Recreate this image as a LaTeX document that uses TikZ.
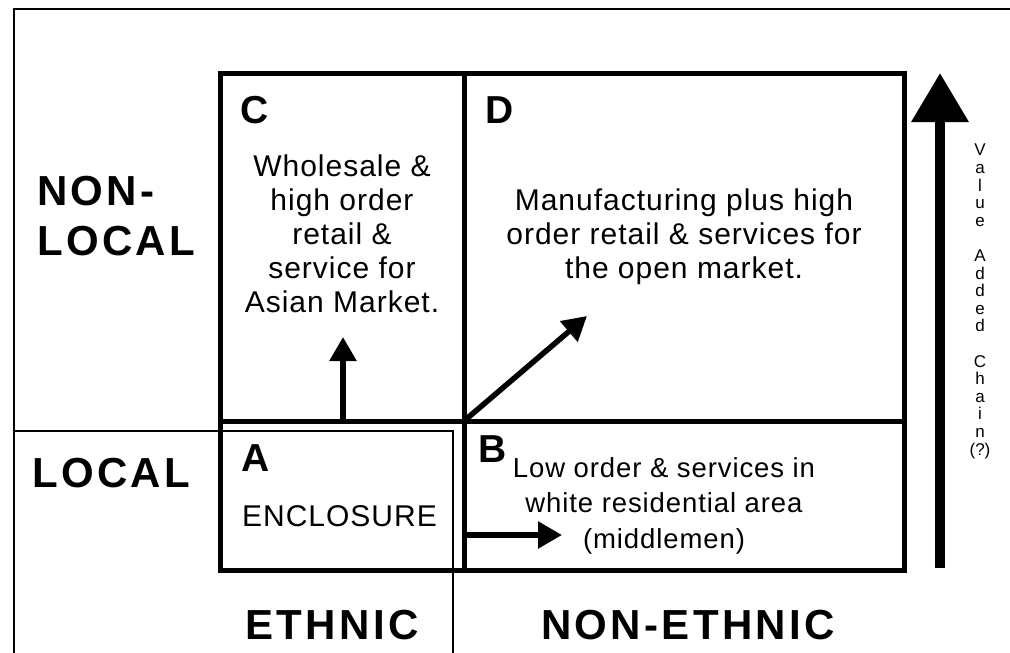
\documentclass[tikz,border=0pt]{standalone}
\usepackage{fontspec}
\setmainfont{Liberation Sans}
\newfontfamily\widefont[LetterSpace=8]{Liberation Sans}
\newfontfamily\bodyfont[LetterSpace=3.3]{Liberation Sans}
\usetikzlibrary{arrows.meta}

\tikzset{
    axislabel/.style={font=\widefont\bfseries\fontsize{42}{50}\selectfont, inner sep=0},
    cellletter/.style={font=\bfseries\fontsize{39}{40}\selectfont, inner sep=0},
    celltext/.style={font=\bodyfont\fontsize{30}{34}\selectfont, align=center, inner sep=0},
    cellline/.style={line width=5pt},
    flow/.style={line width=5.5pt, -{Triangle[length=24pt,width=26pt]}},
}

\begin{document}
\begin{tikzpicture}[x=1pt, y=-1pt]

    \useasboundingbox (0,0) rectangle (1010,653);

    % Frame (top and left edges only)
    \draw[line width=2pt] (14,653) -- (14,9) -- (1010,9);
    \draw[line width=1.5pt] (14,431) -- (453,431) -- (453,653);

    % Matrix of the four cells
    \draw[cellline] (220,73) rectangle (904,570);
    \draw[cellline] (220,421) -- (904,421);
    \draw[cellline] (464,73) -- (464,570);

    % Cell letters
    \node[cellletter, anchor=base west] (lc) at (240,123) {C};
    \node[cellletter, anchor=base west] (ld) at (485,123) {D};
    \node[cellletter, anchor=base west] (la) at (241,471) {A};
    \node[cellletter, anchor=base west] (lb) at (478,462) {B};

    % Cell texts
    \node[celltext, anchor=north] (tc) at (342,155) {Wholesale \&\\high order\\retail \&\\service for\\Asian Market.};
    \node[celltext, anchor=north] (td) at (684,189) {Manufacturing plus high\\order retail \& services for\\the open market.};
    \node[celltext, font=\bodyfont\fontsize{27.5}{35.5}\selectfont, anchor=north] (tb) at (664,457) {Low order \& services in\\white residential area\\(middlemen)};
    \node[celltext, anchor=base west] (ta) at (242,526) {ENCLOSURE};

    % Axis labels
    \node[axislabel, align=left, anchor=north west] (nonlocal) at (37,176) {NON-\\LOCAL};
    \node[axislabel, anchor=base west] (local) at (32,487) {LOCAL};
    \node[axislabel, anchor=base] (ethnic) at (332,639) {ETHNIC};
    \node[axislabel, anchor=base] (nonethnic) at (688,639) {NON-ETHNIC};

    % Moves between cells
    \coordinate (ac) at (343,421);
    \coordinate (cup) at (343,337);
    \coordinate (centre) at (464,421);
    \coordinate (dup) at (587,316);
    \coordinate (ab) at (464,535);
    \coordinate (bin) at (562,535);
    \draw[flow] (ac) -- (cup);
    \draw[flow] (centre) -- (dup);
    \draw[flow] (ab) -- (bin);

    % Value added chain
    \coordinate (vbot) at (940,568);
    \coordinate (vtop) at (940,73);
    \draw[line width=10pt, -{Triangle[length=49pt,width=55pt]}] (vbot) -- (vtop);
    \node[font=\fontsize{17}{17.6}\selectfont, align=center, anchor=north, inner sep=0] (vac) at (980,144)
        {V\\a\\l\\u\\e\\[17.6pt]A\\d\\d\\e\\d\\[17.6pt]C\\h\\a\\i\\n\\(?)};

\end{tikzpicture}
\end{document}
